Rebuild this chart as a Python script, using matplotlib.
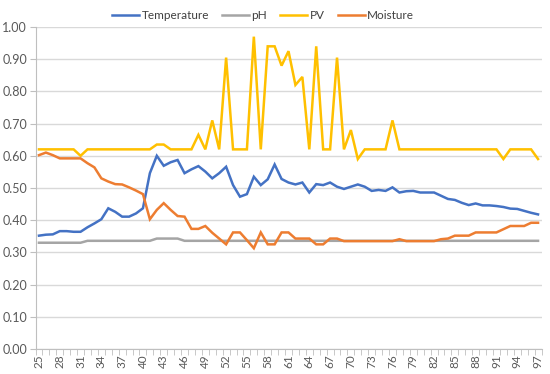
import numpy as np
import matplotlib
matplotlib.use("Agg")
import matplotlib.pyplot as plt

plt.rcParams['font.family'] = ['Lato', 'DejaVu Sans']

# x categories 25..97
days = list(range(25, 98))

temperature = [0.352, 0.355, 0.356, 0.366, 0.366, 0.364, 0.364, 0.378, 0.390, 0.403,
               0.437, 0.426, 0.411, 0.411, 0.421, 0.437, 0.546, 0.600, 0.569, 0.580,
               0.587, 0.546, 0.558, 0.568, 0.551, 0.530, 0.546, 0.566, 0.509, 0.473,
               0.481, 0.535, 0.509, 0.527, 0.573, 0.528, 0.517, 0.511, 0.517, 0.486,
               0.512, 0.509, 0.517, 0.504, 0.497, 0.504, 0.511, 0.504, 0.491, 0.494,
               0.491, 0.502, 0.486, 0.490, 0.491, 0.486, 0.486, 0.486, 0.476, 0.466,
               0.463, 0.454, 0.447, 0.452, 0.446, 0.446, 0.444, 0.441, 0.436, 0.435,
               0.429, 0.423, 0.418]

ph = [0.330] * 7 + [0.336] * 10 + [0.343] * 4 + [0.336] * 52

pv = [0.62, 0.62, 0.62, 0.62, 0.62, 0.62, 0.60, 0.62, 0.62, 0.62,
      0.62, 0.62, 0.62, 0.62, 0.62, 0.62, 0.62, 0.635, 0.635, 0.62,
      0.62, 0.62, 0.62, 0.665, 0.62, 0.71, 0.62, 0.905, 0.62, 0.62,
      0.62, 0.97, 0.62, 0.94, 0.94, 0.88, 0.925, 0.82, 0.845, 0.62,
      0.94, 0.62, 0.62, 0.905, 0.62, 0.68, 0.59, 0.62, 0.62, 0.62,
      0.62, 0.71, 0.62, 0.62, 0.62, 0.62, 0.62, 0.62, 0.62, 0.62,
      0.62, 0.62, 0.62, 0.62, 0.62, 0.62, 0.62, 0.59, 0.62, 0.62,
      0.62, 0.62, 0.59]

moisture = [0.602, 0.610, 0.602, 0.592, 0.592, 0.592, 0.592, 0.577, 0.564, 0.530,
            0.520, 0.512, 0.511, 0.502, 0.492, 0.481, 0.403, 0.432, 0.453, 0.432,
            0.413, 0.411, 0.373, 0.373, 0.382, 0.361, 0.343, 0.325, 0.362, 0.362,
            0.338, 0.313, 0.362, 0.325, 0.325, 0.362, 0.362, 0.343, 0.343, 0.343,
            0.325, 0.325, 0.343, 0.343, 0.335, 0.335, 0.335, 0.335, 0.335, 0.335,
            0.335, 0.335, 0.341, 0.335, 0.335, 0.335, 0.335, 0.335, 0.341, 0.343,
            0.352, 0.352, 0.352, 0.362, 0.362, 0.362, 0.362, 0.372, 0.382, 0.382,
            0.382, 0.392, 0.392]

series = [("Temperature", temperature, "#4472C4"),
          ("pH", ph, "#A5A5A5"),
          ("PV", pv, "#FFC000"),
          ("Moisture", moisture, "#ED7D31")]

fig = plt.figure(figsize=(5.5, 3.74), dpi=100)
ax = fig.add_axes([35.5 / 550, 25 / 374, 506 / 550, 322 / 374])

x = np.arange(len(days))
for name, vals, col in series:
    ax.plot(x, vals, color=col, lw=1.8, label=name, solid_joinstyle='miter')

ax.set_xlim(-0.5, len(days) - 0.5)
ax.set_ylim(0, 1.0)
ax.set_yticks(np.arange(0, 1.01, 0.1))
ax.set_yticklabels(["%.2f" % v for v in np.arange(0, 1.01, 0.1)])
ax.yaxis.grid(True, color="#d9d9d9", lw=1)
ax.set_axisbelow(True)

ax.set_xticks(x[::3])
ax.set_xticklabels([str(d) for d in days[::3]], rotation=90)
ax.set_xticks(np.arange(-0.5, len(days), 1), minor=True)
ax.tick_params(axis='x', which='major', length=0, pad=4, labelsize=8.5, colors="#595959")
ax.tick_params(axis='x', which='minor', length=4, color="#bfbfbf")
ax.tick_params(axis='y', length=4, color="#bfbfbf", labelsize=9, labelcolor="#595959", pad=2)

for s in ["top", "right"]:
    ax.spines[s].set_visible(False)
ax.spines["left"].set_color("#bfbfbf")
ax.spines["bottom"].set_color("#bfbfbf")

ax.legend(loc="lower center", bbox_to_anchor=(0.45, 1.0), ncol=4, frameon=False,
          fontsize=8.5, handlelength=2.3, handletextpad=0.2, columnspacing=1.1,
          borderaxespad=0.1, labelcolor="#404040")

fig.savefig("out.png", dpi=100)
